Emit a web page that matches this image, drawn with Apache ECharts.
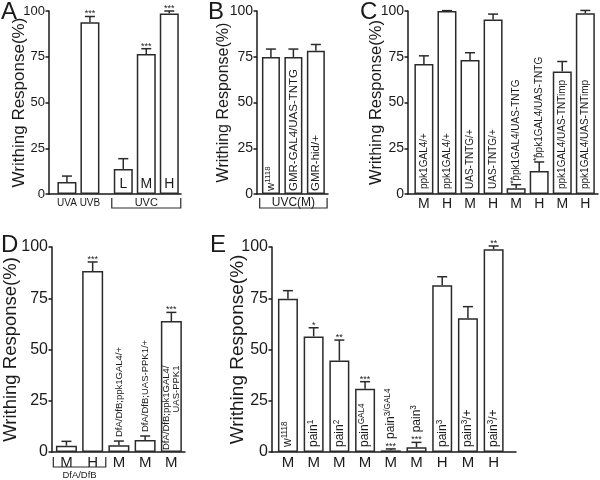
<!DOCTYPE html>
<html><head><meta charset="utf-8">
<script src="https://cdn.jsdelivr.net/npm/echarts@6/dist/echarts.min.js"></script>
<style>html,body{margin:0;padding:0;background:#fff}#c{width:600px;height:480px}</style>
</head><body><div id="c"></div>
<script>
const FONT = '"Liberation Sans", Arial, Helvetica, sans-serif';
const INK = '#1a1a1a';
const yTicks = [0, 25, 50, 75, 100];
const yTitle = 'Writhing Response(%)';

// ---- Panel A ----
const aAxisLabels = ['UVA', 'UVB', '', '', ''];
const aDose = ['', '', 'L', 'M', 'H'];
const aVals = [6.5, 93.8, 13.7, 76.5, 98.7];
const aErr = [3.3, 3.2, 5.6, 2.9, 1.3];
const aStars = ['', '***', '', '***', '***'];
const aGroup = 'UVC';

// ---- Panel B ----
const bGeno = ['w{sup|1118}', 'GMR-GAL4/UAS-TNTG', 'GMR-hid/+'];
const bVals = [74.9, 74.9, 78.3];
const bErr = [4.3, 4.3, 3.4];
const bGroup = 'UVC(M)';

// ---- Panel C ----
const cDose = ['M', 'H', 'M', 'H', 'M', 'H', 'M', 'H'];
const cGeno = ['ppk1GAL4/+', 'ppk1GAL4/+', 'UAS-TNTG/+', 'UAS-TNTG/+',
  'ppk1GAL4/UAS-TNTG', 'ppk1GAL4/UAS-TNTG', 'ppk1GAL4/UAS-TNTimp', 'ppk1GAL4/UAS-TNTimp'];
const cVals = [71, 100, 73.2, 95.4, 3.1, 12.6, 67, 98.8];
const cErr = [4.5, 0.2, 4, 2.9, 2, 4.9, 5.4, 1.5];
const cStars = ['', '', '', '', '**', '**', '', ''];

// ---- Panel D ----
const dDose = ['M', 'H', 'M', 'M', 'M'];
const dGeno = ['', '', 'DfA/DfB;ppk1GAL4/+', 'DfA/DfB;UAS-PPK1/+', 'DfA/DfB;ppk1GAL4/\nUAS-PPK1'];
const dVals = [3.1, 88.3, 3.25, 5.9, 63.9];
const dErr = [2.1, 4.4, 2.1, 1.9, 4.2];
const dStars = ['', '***', '', '', '***'];
const dGroup = 'DfA/DfB';

// ---- Panel E ----
const eDose = ['M', 'M', 'M', 'M', 'M', 'M', 'H', 'M', 'H'];
const eGeno = ['w{sup|1118}', 'pain{sup|1}', 'pain{sup|2}', 'pain{sup|GAL4}', 'pain{sup|3/GAL4}',
  'pain{sup|3}', 'pain{sup|3}', 'pain{sup|3}/+', 'pain{sup|3}/+'];
const eVals = [74.8, 56.4, 44.6, 30.9, 0.8, 2.3, 81.3, 65.2, 98.9];
const eErr = [3.9, 4.2, 10, 3.4, 0.7, 2.4, 4.2, 5.7, 1.6];
const eStars = ['', '*', '**', '***', '***', '***', '', '', '**'];

// ---- layout (positions/sizes/styles only) ----
// bar slots start at 1 so that the x range never contains 0
function positions(n, gapAfter, gap) {
  const p = [];
  for (let i = 0; i < n; i++) p.push(1 + i + (gapAfter != null && i > gapAfter ? gap : 0));
  return p;
}
const panels = [
  { letter: 'A', lx: 1, ly: 0, grid: { left: 49, top: 11, width: 132, height: 183 }, xmin: 0.22, xmax: 5.96,
    pos: positions(5, 1, 0.45), vals: aVals, err: aErr, stars: aStars, axisLabels: aAxisLabels, axisFS: 10, axisDy: 4,
    dose: aDose, doseFS: 14, geno: null, barW: 19, cap: 5, tickFS: 13, nameFS: 17, nameGap: 21,
    bracket: { from: 2, to: 4, text: aGroup, fs: 11, d1: 4, d2: 14, ty: 9 } },
  { letter: 'B', lx: 208, ly: 0, grid: { left: 257, top: 11, width: 71, height: 183 }, xmin: 0.38, xmax: 3.54,
    pos: positions(3), vals: bVals, err: bErr, stars: ['', '', ''], axisLabels: null,
    geno: bGeno, genoFS: 11.5, genoPad: 3, barW: 18, cap: 5, tickFS: 14, nameFS: 16, nameGap: 25,
    bracket: { from: 0, to: 2, text: bGroup, fs: 12, d1: 4, d2: 14, ty: 9 } },
  { letter: 'C', lx: 360, ly: 0, grid: { left: 408, top: 11, width: 190, height: 183 }, xmin: 0.31, xmax: 8.55,
    pos: positions(8), vals: cVals, err: cErr, stars: cStars, starRot: true, axisLabels: cDose, axisFS: 14, axisDy: 3,
    geno: cGeno, genoFS: 10, genoPad: 5, barW: 19, cap: 5, tickFS: 14, nameFS: 16.5, nameGap: 23 },
  { letter: 'D', lx: 1, ly: 233, grid: { left: 52, top: 247, width: 133, height: 205 }, xmin: 0.45, xmax: 5.52,
    pos: positions(5), vals: dVals, err: dErr, stars: dStars, axisLabels: dDose, axisFS: 15, axisDy: 3,
    geno: dGeno, genoFS: 9.5, genoPad: 2, barW: 21, cap: 5, tickFS: 16, nameFS: 18.5, nameGap: 32,
    bracket: { from: 0, to: 1, text: dGroup, fs: 9.5, d1: 5, d2: 15, ty: 23 } },
  { letter: 'E', lx: 210, ly: 233, grid: { left: 272, top: 247, width: 244, height: 205 }, xmin: 0.38, xmax: 9.87,
    pos: positions(9), vals: eVals, err: eErr, stars: eStars, axisLabels: eDose, axisFS: 15, axisDy: 3,
    geno: eGeno, genoFS: 12, genoPad: 5, barW: 20, cap: 5, tickFS: 16, nameFS: 19, nameGap: 25 }
];

const measureCtx = document.createElement('canvas').getContext('2d');
function textWidth(t, fs) {
  measureCtx.font = fs + 'px ' + FONT;
  return measureCtx.measureText(t.replace(/\{sup\|([^}]*)\}/g, '$1')).width;
}
function lineStyle() { return { stroke: '#2a2a2a', lineWidth: 1.5 }; }

// label for a bar, built through the bar series' own label system
function barLabel(p, j) {
  const txt = p.geno ? p.geno[j] : '';
  if (!txt) return { show: false };
  const fs = p.genoFS;
  const ppu = p.grid.height / 100;
  const barPx = p.vals[j] * ppu;
  const errPx = p.err[j] * ppu;
  const st = p.stars[j];
  const lines = txt.split('\n');
  const common = {
    show: true, formatter: txt, rotate: 90, fontSize: fs, fontFamily: FONT, color: INK,
    verticalAlign: 'middle', lineHeight: fs * (lines.length > 1 ? 1.05 : 1.15),
    rich: { sup: { fontSize: fs * 0.68, fontFamily: FONT, color: INK, verticalAlign: 'top', lineHeight: fs * 1.15 } }
  };
  if (barPx + errPx < 40) {
    const gap = st && !p.starRot ? 10 : 4;
    return Object.assign(common, { position: ['50%', -errPx - gap], align: 'left' });
  }
  if (lines.length > 1) {
    const w = Math.max.apply(null, lines.map(l => textWidth(l, fs)));
    return Object.assign(common, { position: ['50%', barPx - p.genoPad - w], align: 'right' });
  }
  return Object.assign(common, { position: ['50%', barPx - p.genoPad], align: 'left' });
}

const grids = [], xAxes = [], yAxes = [], series = [], titles = [];
panels.forEach((p, gi) => {
  grids.push(Object.assign({ containLabel: false }, p.grid));
  titles.push({ text: p.letter, left: p.lx, top: p.ly, padding: 0,
    textStyle: { fontSize: 24, fontWeight: 'normal', fontFamily: FONT, color: INK } });
  xAxes.push({ gridIndex: gi, type: 'value', min: p.xmin, max: p.xmax,
    axisLine: { show: true, onZero: false, lineStyle: { color: INK, width: 1.5 } },
    axisTick: { show: false }, axisLabel: { show: false }, splitLine: { show: false }, axisPointer: { show: false } });
  yAxes.push({ gridIndex: gi, type: 'value', min: 0, max: 100, interval: 25,
    axisLine: { show: true, onZero: false, lineStyle: { color: INK, width: 1.5 } },
    axisTick: { show: true, inside: false, length: 3.5, lineStyle: { color: INK, width: 1.5 } },
    axisLabel: { fontSize: p.tickFS, color: INK, fontFamily: FONT, margin: 4 },
    splitLine: { show: false }, axisPointer: { show: false },
    name: yTitle, nameLocation: 'middle', nameRotate: 90, nameGap: p.nameGap, nameMoveOverlap: false,
    nameTextStyle: { fontSize: p.nameFS, color: INK, fontFamily: FONT } });
  series.push({ type: 'bar', xAxisIndex: gi, yAxisIndex: gi, barWidth: p.barW, silent: true,
    data: p.vals.map((v, j) => ({ value: [p.pos[j], v], label: barLabel(p, j) })),
    labelLayout: { hideOverlap: false },
    itemStyle: { color: '#fff', borderColor: '#2a2a2a', borderWidth: 1.5 } });
  // error bars + stars + axis labels
  series.push({ type: 'custom', xAxisIndex: gi, yAxisIndex: gi, z: 5, silent: true, clip: false,
    data: p.vals.map((v, j) => [p.pos[j], v, p.err[j]]),
    renderItem: function (params, api) {
      const j = params.dataIndex;
      const x = api.value(0), v = api.value(1), e = api.value(2);
      const base = api.coord([x, 0]);
      const top = api.coord([x, v]);
      const et = api.coord([x, v + e]);
      const ch = [];
      if (e > 0) {
        ch.push({ type: 'line', shape: { x1: top[0], y1: top[1], x2: et[0], y2: et[1] }, style: lineStyle() });
        ch.push({ type: 'line', shape: { x1: et[0] - p.cap, y1: et[1], x2: et[0] + p.cap, y2: et[1] }, style: lineStyle() });
      }
      const st = p.stars[j];
      if (st) {
        if (p.starRot) {
          ch.push({ type: 'text', x: et[0] - 3, y: et[1] - 1, rotation: Math.PI / 2,
            style: { text: st, fontSize: 9, fontFamily: FONT, fill: INK, align: 'left', verticalAlign: 'middle' } });
        } else {
          ch.push({ type: 'text', x: et[0], y: et[1] + 2,
            style: { text: st, fontSize: 9, fontFamily: FONT, fill: INK, align: 'center', verticalAlign: 'bottom' } });
        }
      }
      if (p.axisLabels && p.axisLabels[j]) {
        ch.push({ type: 'text', x: base[0], y: base[1] + p.axisDy,
          style: { text: p.axisLabels[j], fontSize: p.axisFS, fontFamily: FONT, fill: INK, align: 'center', verticalAlign: 'top' } });
      }
      if (p.dose && p.dose[j]) {
        ch.push({ type: 'text', x: base[0], y: base[1] - 3,
          style: { text: p.dose[j], fontSize: p.doseFS, fontFamily: FONT, fill: INK, align: 'center', verticalAlign: 'bottom' } });
      }
      return { type: 'group', children: ch };
    } });
  if (p.bracket) {
    const b = p.bracket;
    series.push({ type: 'custom', xAxisIndex: gi, yAxisIndex: gi, z: 5, silent: true, clip: false,
      data: [[p.pos[b.from], 0, p.pos[b.to]]],
      renderItem: function (params, api) {
        const l = api.coord([api.value(0) - 0.5, 0]);
        const r = api.coord([api.value(2) + 0.5, 0]);
        const y0 = l[1];
        return { type: 'group', children: [
          { type: 'polyline', shape: { points: [[l[0], y0 + b.d1], [l[0], y0 + b.d2], [r[0], y0 + b.d2], [r[0], y0 + b.d1]] },
            style: { stroke: '#2a2a2a', lineWidth: 1.2, fill: null } },
          { type: 'text', x: (l[0] + r[0]) / 2, y: y0 + b.ty,
            style: { text: b.text, fontSize: b.fs, fontFamily: FONT, fill: INK, align: 'center', verticalAlign: 'middle' } }
        ] };
      } });
  }
});

const chart = echarts.init(document.getElementById('c'), null, { renderer: 'canvas' });
chart.setOption({
  animation: false,
  backgroundColor: '#fff',
  title: titles,
  grid: grids,
  xAxis: xAxes,
  yAxis: yAxes,
  series: series
});
</script>
</body></html>
